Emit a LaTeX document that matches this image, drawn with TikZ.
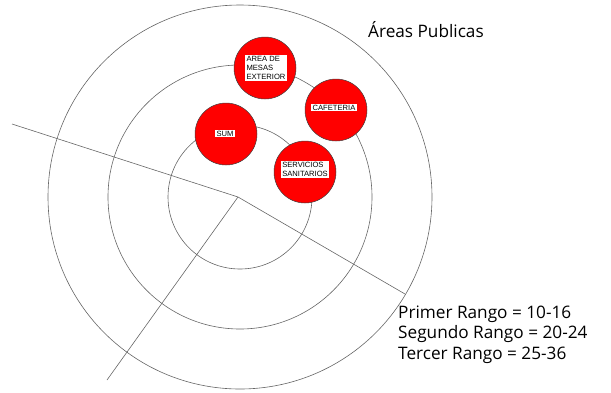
\documentclass[tikz,border=0pt]{standalone}
\usepackage{fontspec}
\setmainfont{Open Sans}
\newfontfamily\labelfont{Liberation Sans}
\begin{document}
\begin{tikzpicture}[x=1pt,y=-1pt,
  ring/.style={draw=black!60,line width=0.6pt},
  axis/.style={draw=black!60,line width=0.6pt},
  zone/.style={circle,draw=black!75,line width=0.5pt,fill=red,minimum size=62pt,inner sep=0pt},
  tag/.style={fill=white,inner sep=1.3pt,font=\labelfont\fontsize{7.6}{9.3}\selectfont,align=left},
  big/.style={font=\fontsize{17.2}{20.5}\selectfont,inner sep=0pt,anchor=base west}]
\useasboundingbox (0,0) rectangle (611,392);
\coordinate (c) at (240,197);
\coordinate (cv) at (238,197);
\draw[ring] (c) circle[radius=72];
\draw[ring] (c) circle[radius=132];
\draw[ring] (c) circle[radius=192];
\coordinate (l1) at (12,124);
\coordinate (l2) at (405,294);
\coordinate (l3) at (107,380);
\draw[axis] (l1) -- (cv) -- (l2);
\draw[axis] (cv) -- (l3);
\node[zone] (mesas) at (265,68) {};
\node[zone] (cafe) at (336,110) {};
\node[zone] (sum) at (226,134) {};
\node[zone] (serv) at (305,172) {};
\node[tag] (tmesas) at (266,68) {AREA DE\\MESAS\\EXTERIOR};
\node[tag] (tcafe) at (334,107.5) {CAFETERIA};
\node[tag] (tsum) at (225,133.5) {SUM};
\node[tag] (tserv) at (305,169.5) {SERVICIOS\\SANITARIOS};
\node[big] (title) at (368,37) {Áreas Publicas};
\node[big] (leg1) at (398,318) {Primer Rango = 10-16};
\node[big] (leg2) at (398,338.5) {Segundo Rango = 20-24};
\node[big] (leg3) at (398,359) {Tercer Rango = 25-36};
\end{tikzpicture}
\end{document}
